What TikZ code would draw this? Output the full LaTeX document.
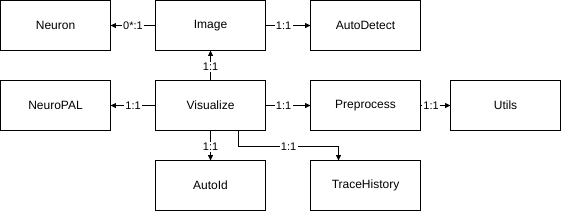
\documentclass[tikz,border=0pt]{standalone}
\usepackage{fontspec}
\setmainfont{Liberation Sans}
\usetikzlibrary{arrows.meta, positioning}
\tikzset{
    module/.style={
        rectangle, draw=black, fill=white, line width=0.75pt,
        minimum width=82.5pt, minimum height=37.5pt,
        inner sep=0pt, outer sep=0pt,
        font=\fontsize{9}{11}\selectfont
    },
    rel label/.style={
        font=\fontsize{8.25}{10}\selectfont, fill=white, inner sep=1pt
    },
    arr/.style={
        -{Triangle[length=4pt,width=3.6pt]}, line width=0.75pt
    }
}

\begin{document}
\begin{tikzpicture}[node distance=22.5pt and 33.75pt]

    \useasboundingbox (-0.4pt,0.4pt) rectangle ++(421.5pt,-159pt);

    % Nodes
    \node[module, anchor=north west] (neuron) at (0,0) {Neuron};
    \node[module, right=of neuron] (image) {Image};
    \node[module, right=of image] (autodetect) {AutoDetect};
    \node[module, below=of neuron] (neuropal) {NeuroPAL};
    \node[module, below=of image] (visualize) {Visualize};
    \node[module, below=of autodetect] (preprocess) {Preprocess};
    \node[module, right=22.5pt of preprocess] (utils) {Utils};
    \node[module, below=of visualize] (autoid) {AutoId};
    \node[module, below=of preprocess] (tracehistory) {TraceHistory};

    % Edges
    \draw[arr] (image) -- node[rel label] {0*:1} (neuron);
    \draw[arr] (image) -- node[rel label, pos=0.4] {1:1} (autodetect);
    \draw[arr] (visualize) -- node[rel label, pos=0.45] {1:1} (image);
    \draw[arr] (visualize) -- node[rel label] {1:1} (neuropal);
    \draw[arr] (visualize) -- node[rel label, pos=0.4] {1:1} (preprocess);
    \draw[arr] (preprocess) -- node[rel label, pos=0.35] {1:1} (utils);
    \draw[arr] (visualize) -- node[rel label, pos=0.55] {1:1} (autoid);
    \draw[arr] ([xshift=21pt]visualize.south) -- ++(0,-12pt)
        -| node[rel label, pos=0.25] {1:1} ([xshift=-20.25pt]tracehistory.north);

\end{tikzpicture}
\end{document}
